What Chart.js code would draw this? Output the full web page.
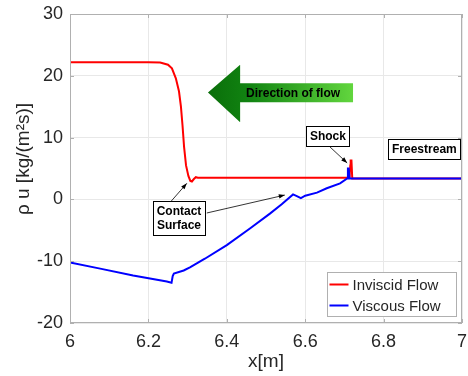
<!DOCTYPE html>
<html>
<head>
<meta charset="utf-8">
<script src="https://cdn.jsdelivr.net/npm/chart.js@4/dist/chart.umd.min.js"></script>
<style>
  html, body { margin: 0; padding: 0; background: #fff; }
  #wrap { width: 468px; height: 376px; }
</style>
</head>
<body>
<div id="wrap"><canvas id="fluxChart" width="468" height="376"></canvas></div>
<script>
// values
const seriesNames = ['Inviscid Flow', 'Viscous Flow'];

const invX = [6.0, 6.2, 6.23, 6.25, 6.26, 6.27, 6.278, 6.283, 6.287, 6.291, 6.296, 6.302, 6.307, 6.311, 6.316, 6.321, 6.326, 6.5, 6.713, 6.715, 6.716, 6.718, 6.72, 6.8, 7.0];
const invY = [22.2, 22.2, 22.15, 21.8, 21.2, 19.6, 17.5, 15.0, 12.0, 8.5, 5.5, 3.8, 3.0, 2.9, 3.3, 3.6, 3.5, 3.5, 3.5, 5.5, 6.3, 6.3, 3.4, 3.4, 3.4];

const visX = [6.0, 6.077, 6.161, 6.247, 6.259, 6.262, 6.265, 6.29, 6.306, 6.344, 6.4, 6.459, 6.51, 6.54, 6.569, 6.58, 6.589, 6.6, 6.63, 6.655, 6.689, 6.707, 6.709, 6.711, 6.713, 6.72, 7.0];
const visY = [-10.2, -11.2, -12.3, -13.3, -13.5, -12.4, -12.0, -11.5, -11.0, -9.6, -7.4, -4.7, -2.3, -0.8, 0.8, 0.5, 0.2, 0.6, 1.1, 1.8, 2.6, 3.4, 5.0, 5.0, 3.4, 3.4, 3.4];

const xTicks = [6, 6.2, 6.4, 6.6, 6.8, 7];
const yTicks = [-20, -10, 0, 10, 20, 30];

const xTitle = 'x[m]';
const yTitle = 'ρ u [kg/(m²s)]';

// annotation boxes (centre in data units)
const notes = [
    { lines: ['Shock'], x: 6.658, y: 10.3 },
    { lines: ['Freestream'], x: 6.904, y: 8.1 },
    { lines: ['Contact', 'Surface'], x: 6.278, y: -3.0 }
];
// arrows: [x0, y0, x1, y1] in data units, head at the end
const pointers = [
    [6.663, 8.5, 6.707, 5.9],
    [6.258, -0.3, 6.298, 2.6],
    [6.349, -2.2, 6.548, 0.7]
];
const flowLabel = 'Direction of flow';

const fontFamily = '"Liberation Sans", Arial, Helvetica, sans-serif';
const ink = '#262626';
const boxGray = '#b0b0b0';

function pts(xs, ys) {
    return xs.map((x, i) => ({ x: x, y: ys[i] }));
}

function arrowHead(ctx, x0, y0, x1, y1, len, half) {
    const a = Math.atan2(y1 - y0, x1 - x0);
    ctx.beginPath();
    ctx.moveTo(x1, y1);
    ctx.lineTo(x1 - len * Math.cos(a) + half * Math.sin(a), y1 - len * Math.sin(a) - half * Math.cos(a));
    ctx.lineTo(x1 - len * Math.cos(a) - half * Math.sin(a), y1 - len * Math.sin(a) + half * Math.cos(a));
    ctx.closePath();
    ctx.fill();
}

const matlabDecor = {
    id: 'matlabDecor',
    afterDatasetsDraw(chart) {
        const ctx = chart.ctx;
        const { left, right, top, bottom } = chart.chartArea;
        const xs = chart.scales.x, ys = chart.scales.y;
        ctx.save();

        // box + inward ticks
        ctx.strokeStyle = boxGray;
        ctx.lineWidth = 1;
        ctx.strokeRect(Math.round(left) + 0.5, Math.round(top) + 0.5, Math.round(right - left) - 1, Math.round(bottom - top) - 1);
        ctx.beginPath();
        xTicks.forEach(v => {
            const px = Math.round(xs.getPixelForValue(v)) + 0.5;
            ctx.moveTo(px, bottom); ctx.lineTo(px, bottom - 4);
            ctx.moveTo(px, top); ctx.lineTo(px, top + 4);
        });
        yTicks.forEach(v => {
            const py = Math.round(ys.getPixelForValue(v)) + 0.5;
            ctx.moveTo(left, py); ctx.lineTo(left + 4, py);
            ctx.moveTo(right, py); ctx.lineTo(right - 4, py);
        });
        ctx.stroke();

        // flow direction arrow
        const tipX = xs.getPixelForValue(6.352), tipY = ys.getPixelForValue(17.3);
        const baseX = xs.getPixelForValue(6.434);
        const headTop = ys.getPixelForValue(21.8), headBot = ys.getPixelForValue(12.5);
        const tailX = xs.getPixelForValue(6.722);
        const shTop = ys.getPixelForValue(18.8), shBot = ys.getPixelForValue(15.7);
        const g = ctx.createLinearGradient(tipX, 0, tailX, 0);
        g.addColorStop(0, '#0a6e0a');
        g.addColorStop(0.3, '#128512');
        g.addColorStop(1, '#62d63e');
        ctx.fillStyle = g;
        ctx.beginPath();
        ctx.moveTo(tipX, tipY);
        ctx.lineTo(baseX, headTop);
        ctx.lineTo(baseX, shTop);
        ctx.lineTo(tailX, shTop);
        ctx.lineTo(tailX, shBot);
        ctx.lineTo(baseX, shBot);
        ctx.lineTo(baseX, headBot);
        ctx.closePath();
        ctx.fill();
        ctx.fillStyle = '#000';
        ctx.font = 'bold 12px ' + fontFamily;
        ctx.textAlign = 'center';
        ctx.textBaseline = 'middle';
        ctx.fillText(flowLabel, xs.getPixelForValue(6.569), ys.getPixelForValue(17.1));

        // pointer arrows
        ctx.strokeStyle = '#000';
        ctx.fillStyle = '#000';
        ctx.lineWidth = 0.8;
        pointers.forEach(p => {
            const x0 = xs.getPixelForValue(p[0]), y0 = ys.getPixelForValue(p[1]);
            const x1 = xs.getPixelForValue(p[2]), y1 = ys.getPixelForValue(p[3]);
            ctx.beginPath();
            ctx.moveTo(x0, y0); ctx.lineTo(x1, y1);
            ctx.stroke();
            arrowHead(ctx, x0, y0, x1, y1, 6, 2.2);
        });

        // text boxes
        ctx.font = 'bold 12px ' + fontFamily;
        notes.forEach(n => {
            const cx = xs.getPixelForValue(n.x), cy = ys.getPixelForValue(n.y);
            const w = Math.round(Math.max(...n.lines.map(s => ctx.measureText(s).width)) + 7);
            const lh = 14;
            const h = n.lines.length * lh + 6;
            const bx = Math.round(cx - w / 2) + 0.5, by = Math.round(cy - h / 2) + 0.5;
            ctx.fillStyle = '#fff';
            ctx.fillRect(bx, by, w, h);
            ctx.strokeStyle = '#000';
            ctx.lineWidth = 1;
            ctx.strokeRect(bx, by, w, h);
            ctx.fillStyle = '#000';
            n.lines.forEach((s, i) => {
                ctx.fillText(s, cx, cy - (n.lines.length - 1) * lh / 2 + i * lh + 0.5);
            });
        });

        // legend, lower right inside the axes
        const lw = 129, lhgt = 44;
        const lx = Math.round(right - 6 - lw) + 0.5, ly = Math.round(bottom - 7 - lhgt) + 0.5;
        ctx.fillStyle = '#fff';
        ctx.fillRect(lx, ly, lw, lhgt);
        ctx.strokeStyle = boxGray;
        ctx.lineWidth = 1;
        ctx.strokeRect(lx, ly, lw, lhgt);
        ctx.font = '15px ' + fontFamily;
        ctx.textAlign = 'left';
        chart.data.datasets.forEach((ds, i) => {
            const ey = ly + 12 + i * 21;
            ctx.strokeStyle = ds.borderColor;
            ctx.lineWidth = 2;
            ctx.beginPath();
            ctx.moveTo(lx + 2, ey); ctx.lineTo(lx + 21, ey);
            ctx.stroke();
            ctx.fillStyle = ink;
            ctx.fillText(ds.label, lx + 25, ey + 1);
        });

        // y axis title
        ctx.translate(24, 159);
        ctx.rotate(-Math.PI / 2);
        ctx.font = '19px ' + fontFamily;
        ctx.textAlign = 'center';
        ctx.fillStyle = ink;
        ctx.fillText(yTitle, 0, 0);
        ctx.restore();
    }
};

new Chart(document.getElementById('fluxChart').getContext('2d'), {
    type: 'line',
    data: {
        datasets: [
            {
                label: seriesNames[0],
                data: pts(invX, invY),
                borderColor: '#ff0000',
                borderWidth: 2,
                pointRadius: 0,
                tension: 0,
                fill: false,
                order: 1
            },
            {
                label: seriesNames[1],
                data: pts(visX, visY),
                borderColor: '#0000ff',
                borderWidth: 2,
                pointRadius: 0,
                tension: 0,
                fill: false,
                order: 0
            }
        ]
    },
    options: {
        responsive: false,
        animation: false,
        layout: { padding: { left: 0, right: 6, top: 14, bottom: 0 } },
        plugins: {
            legend: { display: false },
            tooltip: { enabled: false }
        },
        scales: {
            x: {
                type: 'linear',
                min: 6,
                max: 7,
                afterBuildTicks: axis => { axis.ticks = xTicks.map(v => ({ value: v })); },
                afterFit: axis => { axis.height = 53; axis.paddingLeft = 0; axis.paddingRight = 0; },
                ticks: { color: ink, padding: 8, font: { family: fontFamily, size: 18 }, callback: v => String(v) },
                grid: { color: '#e8e8e8', drawTicks: false },
                border: { display: false },
                title: { display: true, text: xTitle, color: ink, font: { family: fontFamily, size: 19 }, padding: { top: 0, bottom: 3 } }
            },
            y: {
                type: 'linear',
                min: -20,
                max: 30,
                afterBuildTicks: axis => { axis.ticks = yTicks.map(v => ({ value: v })); },
                afterFit: axis => { axis.width = 70; axis.paddingTop = 0; axis.paddingBottom = 0; },
                ticks: { color: ink, padding: 7, font: { family: fontFamily, size: 18 }, callback: v => String(v) },
                grid: { color: '#e8e8e8', drawTicks: false },
                border: { display: false }
            }
        }
    },
    plugins: [matlabDecor]
});
</script>
</body>
</html>
